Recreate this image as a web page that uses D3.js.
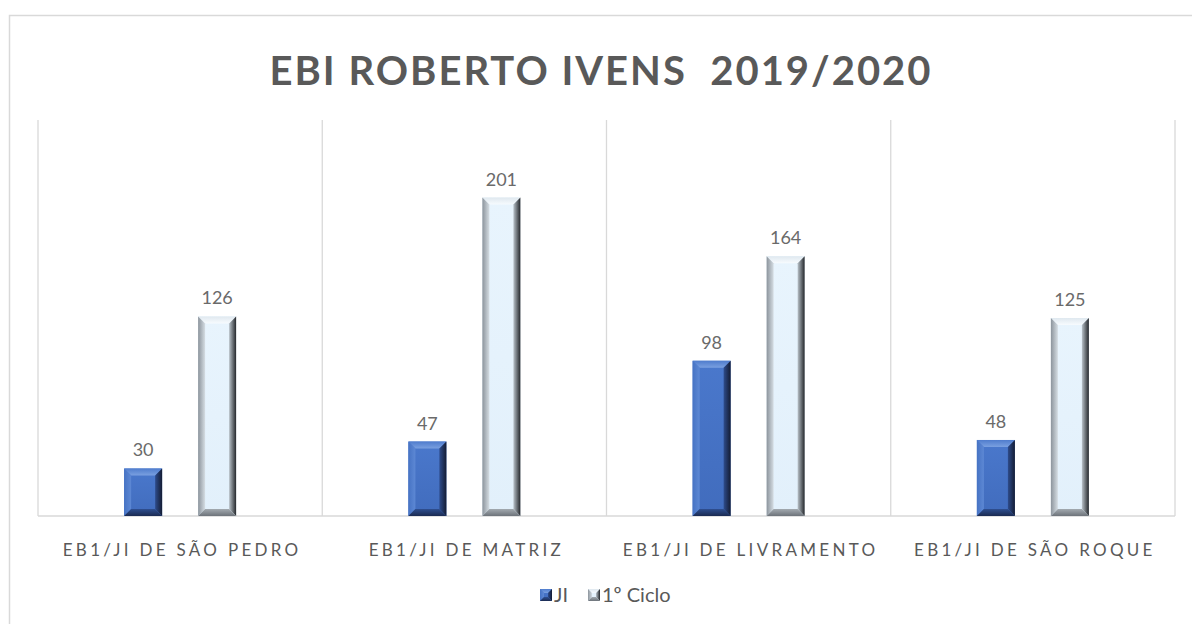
<!DOCTYPE html>
<html><head><meta charset="utf-8">
<script src="https://cdn.jsdelivr.net/npm/d3@7"></script>
<style>
html,body{margin:0;padding:0;background:#fff;}
svg{display:block;font-family:Lato,"Open Sans",sans-serif;}
</style></head>
<body>
<svg id="chart" width="1192" height="624"></svg>
<script>
const title = "EBI ROBERTO IVENS  2019/2020";
const categories = ["EB1/JI DE SÃO PEDRO","EB1/JI DE MATRIZ","EB1/JI DE LIVRAMENTO","EB1/JI DE SÃO ROQUE"];
const seriesNames = ["JI","1º Ciclo"];
const jiValues = [30,47,98,48];
const cicloValues = [126,201,164,125];
const yMax = 250;

const svg = d3.select("#chart");
const plot = {left:38, right:1175, top:120, bottom:516};

svg.append("rect").attr("x",9.5).attr("y",15.5).attr("width",1200).attr("height",700)
  .attr("fill","#fff").attr("stroke","#d9d9d9").attr("stroke-width",1.5);

const defs = svg.append("defs");
function lg(id, stops, x1,y1,x2,y2){
  const g = defs.append("linearGradient").attr("id",id)
    .attr("x1",x1).attr("y1",y1).attr("x2",x2).attr("y2",y2);
  stops.forEach(s=>g.append("stop").attr("offset",s[0]).attr("stop-color",s[1]));
}
lg("jiFace",[[0,"#4a78cc"],[1,"#416cbd"]],0,0,0,1);
lg("jiTop",[[0,"#4f7ccd"],[1,"#7aa0e0"]],0,0,0,1);
lg("jiLeft",[[0,"#4673c4"],[1,"#5d88d4"]],0,0,1,0);
lg("jiRight",[[0,"#2e4c8c"],[1,"#141c33"]],0,0,1,0);
lg("jiBottom",[[0,"#2f4f90"],[1,"#1b2b52"]],0,0,0,1);
lg("ciFace",[[0,"#e8f4fd"],[1,"#e2f0fb"]],0,0,0,1);
lg("ciTop",[[0,"#dfe8ef"],[1,"#f7fbfe"]],0,0,0,1);
lg("ciLeft",[[0,"#8c949c"],[1,"#d5dde3"]],0,0,1,0);
lg("ciRight",[[0,"#b9c2c9"],[1,"#24272b"]],0,0,1,0);
lg("ciBottom",[[0,"#a3aab0"],[1,"#6d737a"]],0,0,0,1);

const x0 = d3.scaleBand().domain(categories).range([plot.left, plot.right]).paddingInner(0).paddingOuter(0);
const y = d3.scaleLinear().domain([0,yMax]).range([plot.bottom, plot.top]);

const bounds = categories.map(c=>x0(c)).concat([plot.right]);
svg.append("g").selectAll("line").data(bounds).join("line")
  .attr("x1",d=>d).attr("x2",d=>d).attr("y1",plot.top).attr("y2",plot.bottom)
  .attr("stroke","#d9d9d9").attr("stroke-width",1.3);
svg.append("line").attr("x1",plot.left).attr("x2",plot.right).attr("y1",plot.bottom).attr("y2",plot.bottom)
  .attr("stroke","#d9d9d9").attr("stroke-width",1.3);

const barW = 38, off = 37;
const data = [];
categories.forEach((c,i)=>{
  data.push({cat:c, s:0, v:jiValues[i]});
  data.push({cat:c, s:1, v:cicloValues[i]});
});

function drawBar(g, x, yTop, w, h, p, bev){
  const b = Math.min(bev||7, h/2, w/2);
  const x2 = x+w, y2 = yTop+h;
  g.append("rect").attr("x",x).attr("y",yTop).attr("width",w).attr("height",h).attr("fill",`url(#${p}Face)`);
  const poly = (pts, f)=>g.append("polygon").attr("points",pts.map(q=>q.join(",")).join(" ")).attr("fill",f);
  poly([[x,yTop],[x2,yTop],[x2-b,yTop+b],[x+b,yTop+b]], `url(#${p}Top)`);
  poly([[x,yTop],[x+b,yTop+b],[x+b,y2-b],[x,y2]], `url(#${p}Left)`);
  poly([[x2,yTop],[x2,y2],[x2-b,y2-b],[x2-b,yTop+b]], `url(#${p}Right)`);
  poly([[x,y2],[x+b,y2-b],[x2-b,y2-b],[x2,y2]], `url(#${p}Bottom)`);
}

const barsG = svg.append("g");
data.forEach(d=>{
  const cx = x0(d.cat) + x0.bandwidth()/2 + (d.s===0?-off:off);
  const yt = y(d.v);
  drawBar(barsG, cx-barW/2, yt, barW, plot.bottom-yt, d.s===0?"ji":"ci");
  svg.append("text").attr("x",cx).attr("y",yt-12).attr("text-anchor","middle")
    .attr("font-size",18).attr("fill","#6a6a6a").text(d.v);
});

svg.append("g").selectAll("text").data(categories).join("text")
  .attr("x",d=>x0(d)+x0.bandwidth()/2+2).attr("y",556).attr("text-anchor","middle")
  .attr("font-size",17).attr("letter-spacing","3.3px").attr("fill","#595959").text(d=>d);

svg.append("text").attr("x",601).attr("y",85).attr("text-anchor","middle")
  .attr("font-size",40).attr("font-weight","bold").attr("fill","#595959")
  .attr("letter-spacing","2px").style("white-space","pre").text(title);

const leg = svg.append("g");
const legItems = [{name:seriesNames[0],p:"ji",x:540},{name:seriesNames[1],p:"ci",x:588}];
legItems.forEach(it=>{
  drawBar(leg, it.x, 589, 12, 12, it.p, 4);
  leg.append("text").attr("x",it.x+14).attr("y",602).attr("font-size",20).attr("fill","#595959").text(it.name);
});
</script>
</body></html>
